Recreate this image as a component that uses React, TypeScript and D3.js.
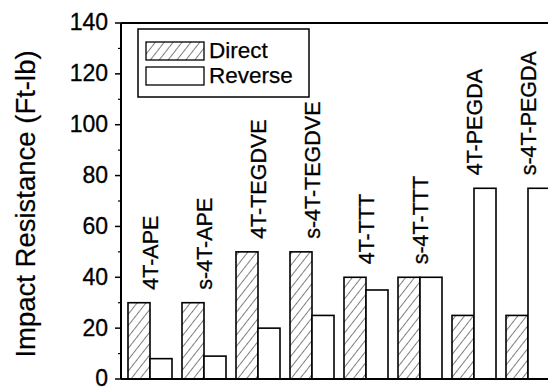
import React from 'react';
import * as d3 from 'd3';

const samples = ['4T-APE', 's-4T-APE', '4T-TEGDVE', 's-4T-TEGDVE', '4T-TTT', 's-4T-TTT', '4T-PEGDA', 's-4T-PEGDA'];
const direct = [30, 30, 50, 50, 40, 40, 25, 25];
const reverse = [8, 9, 20, 25, 35, 40, 75, 75];
const yTicks = [0, 20, 40, 60, 80, 100, 120, 140];
const seriesNames = ['Direct', 'Reverse'];

const W = 548;
const H = 389;
const FONT = '"Liberation Sans", Arial, Helvetica, sans-serif';

const App = () => {
    const left = 121;
    const top = 23;
    const bottom = 379;
    const right = 575;

    const x = d3.scaleBand<string>()
        .domain(samples)
        .range([123, 555])
        .paddingInner(10 / 54)
        .paddingOuter(5 / 54);
    const y = d3.scaleLinear().domain([0, 140]).range([bottom, top]);
    const bw = x.bandwidth() / 2;
    const minor = d3.range(10, 140, 20);

    return (
        <div style={{ position: 'absolute', left: 0, top: 0 }}>
            <svg width={W} height={H} style={{ display: 'block', background: '#fff' }} fontFamily={FONT}>
                <defs>
                    <pattern id="hatch" patternUnits="userSpaceOnUse" width={7} height={7} patternTransform="rotate(38)">
                        <line x1={0} y1={0} x2={0} y2={7} stroke="#000" strokeWidth={1} />
                    </pattern>
                </defs>

                {/* bars */}
                {samples.map((s, i) => (
                    <g key={s}>
                        <rect x={x(s)} y={y(direct[i])} width={bw} height={y(0) - y(direct[i])}
                            fill="url(#hatch)" stroke="#000" strokeWidth={1.6} />
                        <rect x={(x(s) as number) + bw} y={y(reverse[i])} width={bw} height={y(0) - y(reverse[i])}
                            fill="#fff" stroke="#000" strokeWidth={1.6} />
                        <text
                            transform={`translate(${(x(s) as number) + bw},${y(Math.max(direct[i], reverse[i])) - 13}) rotate(-90)`}
                            dy="0.35em" fontSize={21.5} fill="#000" stroke="#000" strokeWidth={0.3}>
                            {s}
                        </text>
                    </g>
                ))}

                {/* frame */}
                <line x1={left} x2={left} y1={top} y2={bottom} stroke="#000" strokeWidth={2} />
                <line x1={left} x2={right} y1={bottom} y2={bottom} stroke="#000" strokeWidth={2} />
                <line x1={left} x2={right} y1={top} y2={top} stroke="#000" strokeWidth={2} />

                {/* y axis */}
                {yTicks.map(t => (
                    <g key={t}>
                        <line x1={left - 6} x2={left} y1={y(t)} y2={y(t)} stroke="#000" strokeWidth={1.5} />
                        <text x={left - 13} y={y(t)} dy="0.32em" textAnchor="end" fontSize={23} fill="#000"
                            stroke="#000" strokeWidth={0.3}>{t}</text>
                    </g>
                ))}
                {minor.map(t => (
                    <line key={t} x1={left - 3} x2={left} y1={y(t)} y2={y(t)} stroke="#000" strokeWidth={1.2} />
                ))}
                <text transform="translate(35,204) rotate(-90)" textAnchor="middle"
                    fontSize={27.5} fill="#000" stroke="#000" strokeWidth={0.2}>Impact Resistance (Ft-lb)</text>

                {/* legend */}
                <rect x={138} y={29} width={171} height={68} fill="#fff" stroke="#000" strokeWidth={1.5} />
                {seriesNames.map((n, i) => (
                    <g key={n} transform={`translate(146,${42 + i * 25})`}>
                        <rect x={0} y={0} width={58} height={18} fill={i === 0 ? 'url(#hatch)' : '#fff'}
                            stroke="#000" strokeWidth={1.3} />
                        <text x={63} y={16} fontSize={22.5} fill="#000" stroke="#000" strokeWidth={0.25}>{n}</text>
                    </g>
                ))}
            </svg>
        </div>
    );
};

export default App;
